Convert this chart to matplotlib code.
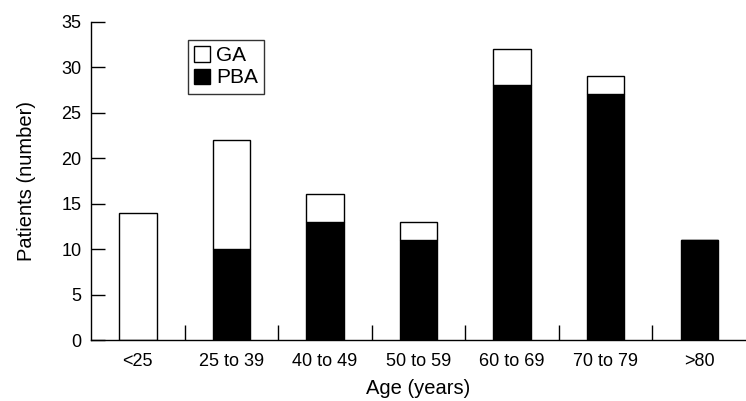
import numpy as np
import matplotlib
matplotlib.use("Agg")
import matplotlib.pyplot as plt
from matplotlib.patches import Patch

plt.rcParams["font.family"] = ["Liberation Sans", "DejaVu Sans"]

# data
age_groups = ["<25", "25 to 39", "40 to 49", "50 to 59", "60 to 69", "70 to 79", ">80"]
pba = [0, 10, 13, 11, 28, 27, 11]
ga = [14, 12, 3, 2, 4, 2, 0]

fig = plt.figure(figsize=(7.46, 4.01), dpi=100)
ax = fig.add_axes([0.122, 0.152, 0.878, 0.794])

x = np.arange(len(age_groups))
w = 0.4
ax.bar(x, pba, width=w, color="black", edgecolor="black", linewidth=1)
ax.bar(x, ga, width=w, bottom=pba, color="white", edgecolor="black", linewidth=1)

ax.set_xlim(-0.5, 6.5)
ax.set_ylim(0, 35)
ax.set_yticks(range(0, 36, 5))
ax.set_xticks(x)
ax.set_xticklabels(age_groups, fontsize=13)
ax.set_xticks(x[:-1] + 0.5, minor=True)
ax.tick_params(axis="x", which="major", length=0, pad=9)
ax.tick_params(axis="x", which="minor", direction="in", length=11, width=1)
ax.tick_params(axis="y", direction="in", length=10, width=1, pad=7, labelsize=13)

for s in ["top", "right"]:
    ax.spines[s].set_visible(False)
for s in ["left", "bottom"]:
    ax.spines[s].set_linewidth(1)

ax.set_ylabel("Patients (number)", fontsize=14.5, labelpad=18)
ax.set_xlabel("Age (years)", fontsize=14.5, labelpad=7)

handles = [Patch(facecolor="white", edgecolor="black", label="GA"),
           Patch(facecolor="black", edgecolor="black", label="PBA")]
leg = ax.legend(handles=handles, loc="upper left", bbox_to_anchor=(0.148, 0.942),
                fontsize=15, frameon=True, fancybox=False, handlelength=0.75,
                handleheight=0.75, handletextpad=0.3, borderpad=0.3,
                labelspacing=0.15, borderaxespad=0)
leg.get_frame().set_edgecolor("black")
leg.get_frame().set_linewidth(1)

fig.savefig("out.png", dpi=100)
